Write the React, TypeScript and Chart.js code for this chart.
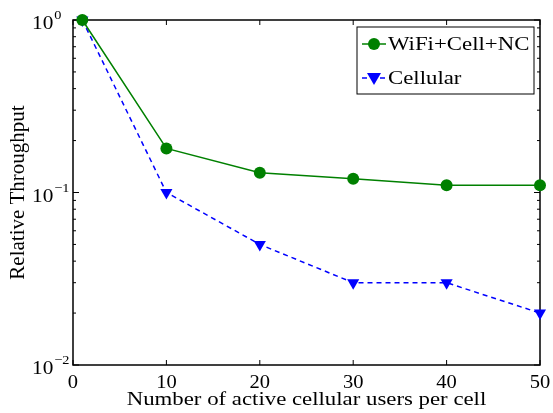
import React, { useEffect, useRef } from "react";
import { Chart, registerables } from "chart.js";

Chart.register(...registerables);

const xValues = [1, 10, 20, 30, 40, 50];
const wifiCellNc = [1, 0.18, 0.13, 0.12, 0.11, 0.11];
const cellular = [1, 0.1, 0.05, 0.03, 0.03, 0.02];
const xTicks = [0, 10, 20, 30, 40, 50];
const yTickExponents = [-2, -1, 0];
const seriesNames = ["WiFi+Cell+NC", "Cellular"];
const xTitle = "Number of active cellular users per cell";
const yTitle = "Relative Throughput";

const GREEN = "rgb(0,128,0)";
const BLUE = "rgb(0,0,255)";
const FONT = "'Liberation Serif', 'Times New Roman', serif";

function drawMarker(ctx: CanvasRenderingContext2D, kind: number, x: number, y: number) {
  ctx.save();
  if (kind === 0) {
    ctx.fillStyle = GREEN;
    ctx.beginPath();
    ctx.arc(x, y, 6, 0, Math.PI * 2);
    ctx.fill();
  } else {
    ctx.fillStyle = BLUE;
    ctx.beginPath();
    ctx.moveTo(x - 7, y - 5);
    ctx.lineTo(x + 7, y - 5);
    ctx.lineTo(x, y + 7);
    ctx.closePath();
    ctx.fill();
  }
  ctx.restore();
}

// draw text horizontally stretched by sx, anchored by align at x
function stretchedText(
  ctx: CanvasRenderingContext2D,
  text: string,
  x: number,
  y: number,
  sx: number,
  align: "left" | "center" | "right"
) {
  const w = ctx.measureText(text).width * sx;
  let x0 = x;
  if (align === "center") x0 = x - w / 2;
  else if (align === "right") x0 = x - w;
  ctx.save();
  ctx.textAlign = "left";
  ctx.translate(x0, y);
  ctx.scale(sx, 1);
  ctx.fillText(text, 0, 0);
  ctx.restore();
  return w;
}

const framePlugin = {
  id: "matlabFrame",
  beforeDatasetsDraw(chart: any) {
    const { ctx, chartArea } = chart;
    const { left, right, top, bottom } = chartArea;
    const xs = chart.scales.x;
    const ys = chart.scales.y;
    ctx.save();
    ctx.strokeStyle = "#000";
    ctx.lineWidth = 1.5;
    ctx.strokeRect(left, top, right - left, bottom - top);
    ctx.lineWidth = 1;
    xTicks.forEach((t) => {
      const px = xs.getPixelForValue(t);
      ctx.beginPath();
      ctx.moveTo(px, bottom);
      ctx.lineTo(px, bottom - 5);
      ctx.moveTo(px, top);
      ctx.lineTo(px, top + 5);
      ctx.stroke();
    });
    for (let e = -2; e <= 0; e++) {
      const major = Math.pow(10, e);
      const py = ys.getPixelForValue(major);
      ctx.beginPath();
      ctx.moveTo(left, py);
      ctx.lineTo(left + 6, py);
      ctx.moveTo(right, py);
      ctx.lineTo(right - 6, py);
      ctx.stroke();
      if (e < 0) {
        for (let m = 2; m <= 9; m++) {
          const p = ys.getPixelForValue(m * major);
          ctx.beginPath();
          ctx.moveTo(left, p);
          ctx.lineTo(left + 3, p);
          ctx.moveTo(right, p);
          ctx.lineTo(right - 3, p);
          ctx.stroke();
        }
      }
    }
    ctx.restore();
  },
  afterDraw(chart: any) {
    const { ctx, chartArea } = chart;
    const { left, right, top, bottom } = chartArea;
    const xs = chart.scales.x;
    const ys = chart.scales.y;
    ctx.save();
    ctx.fillStyle = "#000";
    ctx.textBaseline = "alphabetic";
    // x tick labels
    ctx.font = `19px ${FONT}`;
    xTicks.forEach((t) => {
      stretchedText(ctx, String(t), xs.getPixelForValue(t), bottom + 23, 1.08, "center");
    });
    // y tick labels
    yTickExponents.forEach((e) => {
      const py = ys.getPixelForValue(Math.pow(10, e));
      ctx.font = `19px ${FONT}`;
      const w = stretchedText(ctx, "10", 32, py + 9, 1.12, "left");
      ctx.font = `13px ${FONT}`;
      stretchedText(ctx, e < 0 ? "\u2212" + String(-e) : String(e), 32 + w + 1, py - 1, 1.1, "left");
    });
    // axis titles
    ctx.font = `19px ${FONT}`;
    stretchedText(ctx, xTitle, (left + right) / 2, bottom + 40, 1.2, "center");
    ctx.save();
    ctx.translate(24, (top + bottom) / 2);
    ctx.rotate(-Math.PI / 2);
    ctx.font = `20px ${FONT}`;
    stretchedText(ctx, yTitle, 0, 0, 1.05, "center");
    ctx.restore();
    // legend
    const lx = 357, ly = 27, lw = 177, lh = 67;
    ctx.fillStyle = "#fff";
    ctx.fillRect(lx, ly, lw, lh);
    ctx.strokeStyle = "#000";
    ctx.lineWidth = 1;
    ctx.strokeRect(lx, ly, lw, lh);
    const rows = [44, 78];
    rows.forEach((ry, i) => {
      ctx.strokeStyle = i === 0 ? GREEN : BLUE;
      ctx.lineWidth = 1.5;
      ctx.setLineDash(i === 0 ? [] : [5, 4]);
      ctx.beginPath();
      ctx.moveTo(lx + 5, ry);
      ctx.lineTo(lx + 29, ry);
      ctx.stroke();
      ctx.setLineDash([]);
      drawMarker(ctx, i, lx + 17, ry);
      ctx.fillStyle = "#000";
      ctx.font = `19px ${FONT}`;
      ctx.textBaseline = "middle";
      stretchedText(ctx, seriesNames[i], lx + 31, ry + 1, 1.2, "left");
    });
    ctx.restore();
  },
};

export default function App() {
  const ref = useRef<HTMLCanvasElement | null>(null);
  useEffect(() => {
    if (!ref.current) return;
    const chart = new Chart(ref.current, {
      type: "line",
      data: {
        datasets: [
          {
            label: seriesNames[0],
            data: xValues.map((x, i) => ({ x, y: wifiCellNc[i] })),
            borderColor: GREEN,
            backgroundColor: GREEN,
            borderWidth: 1.5,
            pointStyle: "circle",
            pointRadius: 6,
            pointBorderWidth: 0,
            pointBackgroundColor: GREEN,
            clip: false as any,
            tension: 0,
          },
          {
            label: seriesNames[1],
            data: xValues.map((x, i) => ({ x, y: cellular[i] })),
            borderColor: BLUE,
            backgroundColor: BLUE,
            borderWidth: 1.5,
            borderDash: [5, 4],
            pointStyle: "triangle",
            pointRotation: 180,
            pointRadius: 7,
            pointBorderWidth: 0,
            pointBackgroundColor: BLUE,
            clip: false as any,
            tension: 0,
          },
        ],
      },
      options: {
        animation: false,
        responsive: false,
        devicePixelRatio: 1,
        layout: { padding: { left: 73, right: 13, top: 20, bottom: 48 } },
        plugins: { legend: { display: false }, tooltip: { enabled: false } },
        scales: {
          x: { type: "linear", min: 0, max: 50, display: false },
          y: { type: "logarithmic", min: 0.01, max: 1, display: false },
        },
      },
      plugins: [framePlugin],
    });
    return () => chart.destroy();
  }, []);
  return (
    <div style={{ position: "fixed", left: 0, top: 0, width: 553, height: 413, background: "#fff" }}>
      <canvas ref={ref} width={553} height={413} style={{ width: 553, height: 413 }} />
    </div>
  );
}
